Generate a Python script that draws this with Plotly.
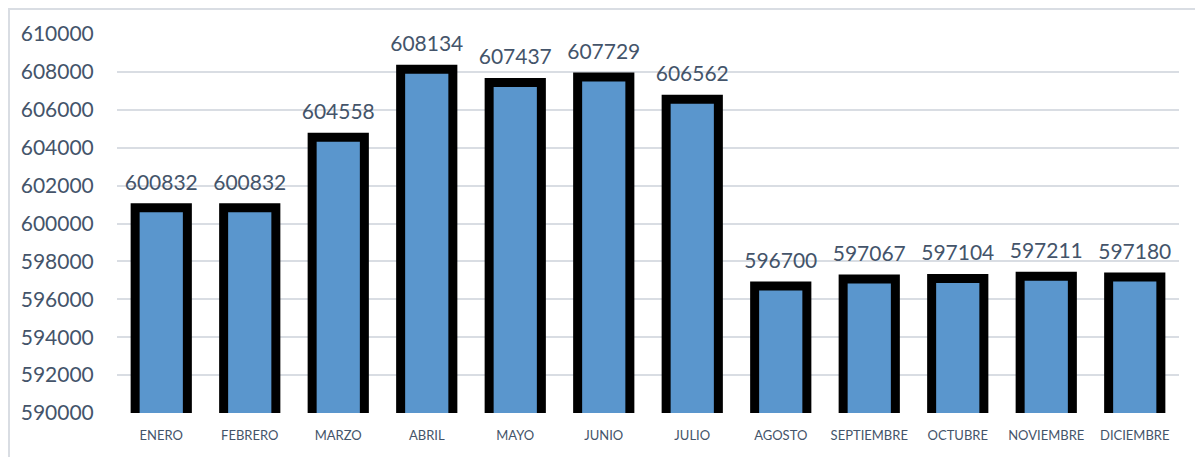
import plotly.graph_objects as go

months = ["ENERO", "FEBRERO", "MARZO", "ABRIL", "MAYO", "JUNIO", "JULIO",
          "AGOSTO", "SEPTIEMBRE", "OCTUBRE", "NOVIEMBRE", "DICIEMBRE"]
values = [600832, 600832, 604558, 608134, 607437, 607729, 606562,
          596700, 597067, 597104, 597211, 597180]
y_ticks = [590000, 592000, 594000, 596000, 598000, 600000,
           602000, 604000, 606000, 608000, 610000]

TEXT = "#44546A"
FONT = "Lato"

fig = go.Figure()
fig.add_trace(go.Bar(
    x=months, y=values,
    marker=dict(color="#5a96cd", line=dict(color="#000000", width=9)),
    width=0.59,
    hoverinfo="x+y",
))
# value labels above bars
fig.add_trace(go.Scatter(
    x=months, y=values,
    mode="markers+text",
    marker=dict(size=19, color="rgba(0,0,0,0)"),
    text=[str(v) for v in values],
    textposition="top center",
    textfont=dict(family=FONT, size=21, color=TEXT),
    cliponaxis=False,
    hoverinfo="skip",
))

fig.update_layout(
    width=1195, height=449,
    margin=dict(l=109, r=24, t=26, b=44),
    paper_bgcolor="white", plot_bgcolor="white",
    showlegend=False,
    font=dict(family=FONT, color=TEXT),
    shapes=[dict(type="rect", xref="paper", yref="paper",
                 x0=-0.1017, x1=1.0179, y0=-0.3, y1=1.066,
                 line=dict(color="#d9dde3", width=2), fillcolor="rgba(0,0,0,0)",
                 layer="below")],
)
fig.update_yaxes(
    range=[590000, 610000], tickvals=y_ticks, ticktext=[str(t) for t in y_ticks],
    showgrid=True, gridcolor="#d9dde3", gridwidth=2,
    zeroline=False, showline=False,
    ticks="outside", ticklen=18, tickcolor="rgba(0,0,0,0)",
    tickfont=dict(family=FONT, size=21, color=TEXT),
)
fig.update_xaxes(
    range=[-0.5, len(months) - 0.5],
    showgrid=False, showline=False, zeroline=False,
    ticks="outside", ticklen=10, tickcolor="rgba(0,0,0,0)",
    tickfont=dict(family=FONT, size=13, color=TEXT),
)

fig.write_html("out.html")
